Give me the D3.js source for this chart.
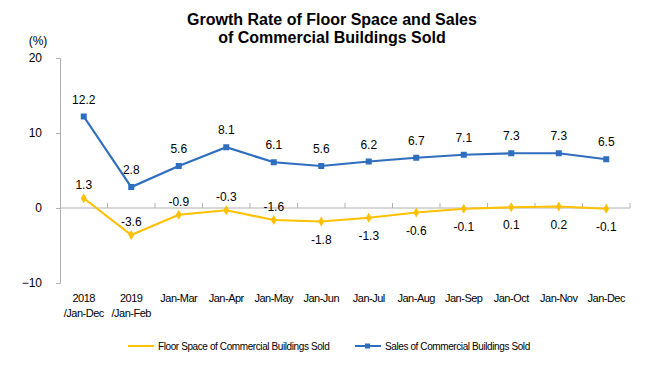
<!DOCTYPE html>
<html>
<head>
<meta charset="utf-8">
<script src="https://cdn.jsdelivr.net/npm/d3@7"></script>
<style>
  body { margin: 0; background: #fff; }
  text { font-family: "Liberation Sans", Arial, sans-serif; }
</style>
</head>
<body>
<div id="chart"></div>
<script>
var categories = ["2018\n/Jan-Dec", "2019\n/Jan-Feb", "Jan-Mar", "Jan-Apr", "Jan-May", "Jan-Jun",
                  "Jan-Jul", "Jan-Aug", "Jan-Sep", "Jan-Oct", "Jan-Nov", "Jan-Dec"];
var floorSpace = [1.3, -3.6, -0.9, -0.3, -1.6, -1.8, -1.3, -0.6, -0.1, 0.1, 0.2, -0.1];
var sales = [12.2, 2.8, 5.6, 8.1, 6.1, 5.6, 6.2, 6.7, 7.1, 7.3, 7.3, 6.5];
// which floor space labels sit above the point
var floorAbove = [true, true, true, true, true, false, false, false, false, false, false, false];
var yTicks = [20, 10, 0, -10];

var width = 660, height = 377;
var svg = d3.select("#chart").append("svg")
    .attr("width", width)
    .attr("height", height);

var x = d3.scaleBand()
    .domain(d3.range(categories.length))
    .range([60, 630]);

var y = d3.scaleLinear()
    .domain([-10, 20])
    .range([283, 58]);

// title
svg.append("text")
    .attr("x", 332).attr("y", 25)
    .attr("text-anchor", "middle")
    .style("font-size", "16px").style("font-weight", "bold")
    .text("Growth Rate of Floor Space and Sales");
svg.append("text")
    .attr("x", 332).attr("y", 43)
    .attr("text-anchor", "middle")
    .style("font-size", "16px").style("font-weight", "bold")
    .text("of Commercial Buildings Sold");

svg.append("text")
    .attr("x", 38).attr("y", 45)
    .attr("text-anchor", "middle")
    .style("font-size", "12px")
    .text("(%)");

// y axis
var yAxis = svg.append("g")
    .attr("transform", "translate(60,0)")
    .call(d3.axisLeft(y).tickValues(yTicks).tickSize(4).tickPadding(14));
yAxis.select(".domain").attr("stroke", "#b0b0b0");
yAxis.selectAll(".tick line").attr("stroke", "#b0b0b0");
yAxis.selectAll(".tick text").style("font-size", "12px").attr("fill", "#000");

// x axis line at zero with upward ticks on category boundaries
svg.append("line")
    .attr("x1", 60).attr("x2", 630)
    .attr("y1", y(0)).attr("y2", y(0))
    .attr("stroke", "#b0b0b0");
svg.selectAll(".xtick")
    .data(d3.range(1, categories.length + 1))
    .enter().append("line")
    .attr("x1", function (d) { return 60 + d * x.step(); })
    .attr("x2", function (d) { return 60 + d * x.step(); })
    .attr("y1", y(0)).attr("y2", y(0) - 5)
    .attr("stroke", "#b0b0b0");

// category labels
var catText = svg.selectAll(".cat")
    .data(categories)
    .enter().append("text")
    .attr("text-anchor", "middle")
    .style("font-size", "11px")
    .style("letter-spacing", "-0.5px");
catText.each(function (d, i) {
    var lines = d.split("\n");
    var t = d3.select(this);
    lines.forEach(function (l, j) {
        t.append("tspan")
            .attr("x", x(i) + x.bandwidth() / 2)
            .attr("y", 302 + j * 15)
            .text(l);
    });
});

var cx = function (d, i) { return x(i) + x.bandwidth() / 2; };

var line = d3.line()
    .x(function (d, i) { return x(i) + x.bandwidth() / 2; })
    .y(function (d) { return y(d); });

var blue = "#2f6ebf", gold = "#ffc000";

// sales series
svg.append("path")
    .datum(sales)
    .attr("fill", "none")
    .attr("stroke", blue)
    .attr("stroke-width", 2.2)
    .attr("d", line);
svg.selectAll(".sq")
    .data(sales)
    .enter().append("rect")
    .attr("x", function (d, i) { return cx(d, i) - 3; })
    .attr("y", function (d) { return y(d) - 3; })
    .attr("width", 6).attr("height", 6)
    .attr("fill", blue);
svg.selectAll(".slab")
    .data(sales)
    .enter().append("text")
    .attr("x", cx)
    .attr("y", function (d) { return y(d) - 13; })
    .attr("text-anchor", "middle")
    .style("font-size", "12px")
    .text(function (d) { return d.toFixed(1); });

// floor space series
svg.append("path")
    .datum(floorSpace)
    .attr("fill", "none")
    .attr("stroke", gold)
    .attr("stroke-width", 2.2)
    .attr("d", line);
svg.selectAll(".dm")
    .data(floorSpace)
    .enter().append("path")
    .attr("transform", function (d, i) { return "translate(" + cx(d, i) + "," + y(d) + ")"; })
    .attr("d", d3.symbol().type(d3.symbolDiamond).size(30))
    .attr("fill", gold);
svg.selectAll(".flab")
    .data(floorSpace)
    .enter().append("text")
    .attr("x", cx)
    .attr("y", function (d, i) { return floorAbove[i] ? y(d) - 9 : y(d) + 22; })
    .attr("text-anchor", "middle")
    .style("font-size", "12px")
    .text(function (d) { return d.toFixed(1); });

// legend
var lg = svg.append("g").style("font-size", "10px");
lg.append("line").attr("x1", 128).attr("x2", 154).attr("y1", 346).attr("y2", 346)
    .attr("stroke", gold).attr("stroke-width", 2);
lg.append("text").attr("x", 158).attr("y", 350).style("letter-spacing", "-0.4px")
    .text("Floor Space of Commercial Buildings Sold");
lg.append("line").attr("x1", 355).attr("x2", 381).attr("y1", 346).attr("y2", 346)
    .attr("stroke", blue).attr("stroke-width", 2);
lg.append("rect").attr("x", 365).attr("y", 343.5).attr("width", 5).attr("height", 5).attr("fill", blue);
lg.append("text").attr("x", 385).attr("y", 350).style("letter-spacing", "-0.4px")
    .text("Sales of Commercial Buildings Sold");
</script>
</body>
</html>
